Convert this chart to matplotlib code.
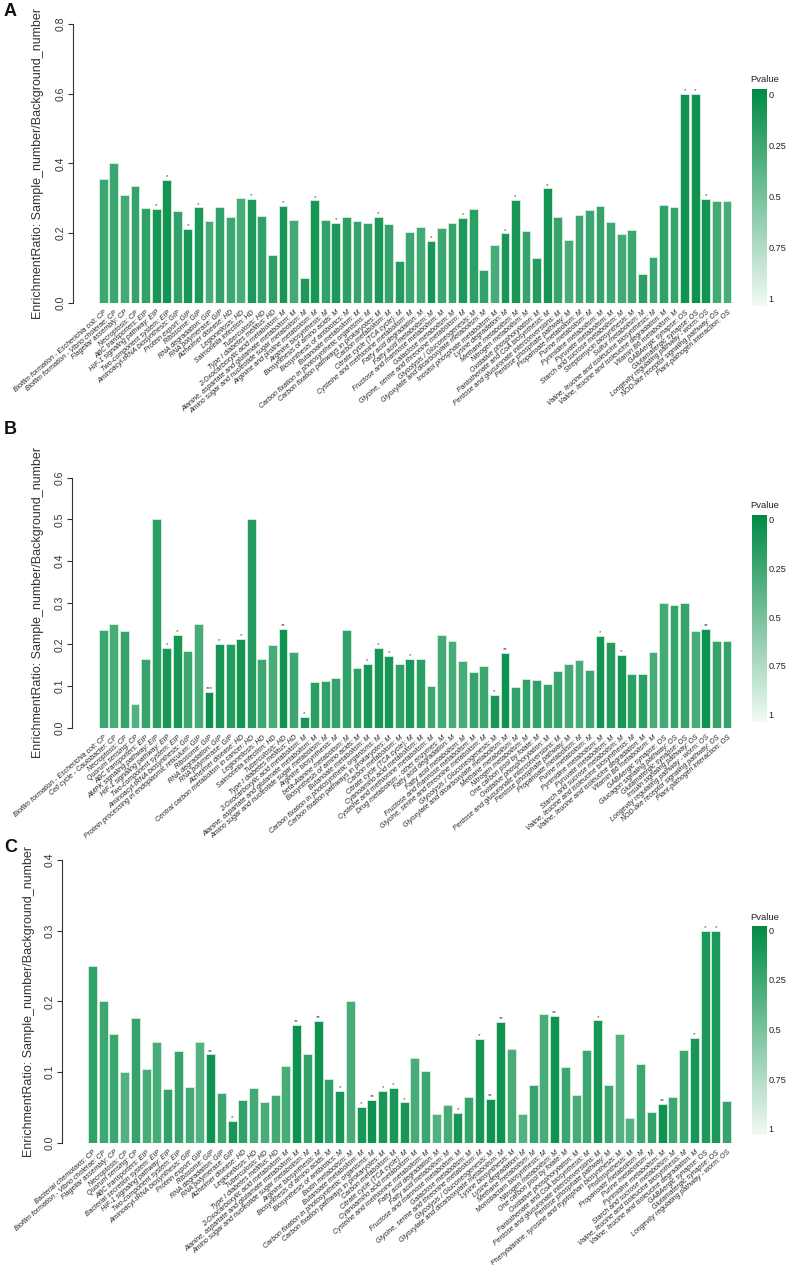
import numpy as np
import matplotlib
matplotlib.use("Agg")
import matplotlib.pyplot as plt
from matplotlib.colors import LinearSegmentedColormap

# ---------------- data ----------------
labels_A = [
    "Biofilm formation - Escherichia coli: CP", "Biofilm formation - Vibrio cholerae: CP",
    "Flagellar assembly: CP", "Necroptosis: CP",
    "ABC transporters: EIP", "HIF-1 signaling pathway: EIP", "Two-component system: EIP",
    "Aminoacyl-tRNA biosynthesis: GIP", "Protein export: GIP", "Ribosome: GIP",
    "RNA degradation: GIP", "RNA polymerase: GIP",
    "Alzheimer disease: HD", "Legionellosis: HD", "Salmonella infection: HD",
    "Tuberculosis: HD", "Type I diabetes mellitus: HD",
    "2-Oxocarboxylic acid metabolism: M", "Alanine, aspartate and glutamate metabolism: M",
    "Amino sugar and nucleotide sugar metabolism: M", "Arginine and proline metabolism: M",
    "Arginine biosynthesis: M", "Biosynthesis of amino acids: M", "Biosynthesis of antibiotics: M",
    "Butanoate metabolism: M", "Carbon fixation in photosynthetic organisms: M",
    "Carbon fixation pathways in prokaryotes: M", "Carbon metabolism: M",
    "Citrate cycle (TCA cycle): M", "Cysteine and methionine metabolism: M",
    "Fatty acid degradation: M", "Fatty acid metabolism: M", "Fructose and mannose metabolism: M",
    "Galactose metabolism: M", "Glycine, serine and threonine metabolism: M",
    "Glycolysis / Gluconeogenesis: M", "Glyoxylate and dicarboxylate metabolism: M",
    "Inositol phosphate metabolism: M", "Lysine degradation: M", "Methane metabolism: M",
    "Nitrogen metabolism: M", "Oxidative phosphorylation: M", "Pantothenate and CoA biosynthesis: M",
    "Pentose and glucuronate interconversions: M", "Pentose phosphate pathway: M",
    "Propanoate metabolism: M", "Purine metabolism: M", "Pyrimidine metabolism: M",
    "Pyruvate metabolism: M", "Starch and sucrose metabolism: M", "Streptomycin biosynthesis: M",
    "Sulfur metabolism: M", "Valine, leucine and isoleucine biosynthesis: M",
    "Valine, leucine and isoleucine degradation: M", "Vitamin B6 metabolism: M",
    "GABAergic synapse: OS", "Glutamatergic synapse: OS", "Longevity regulating pathway - worm: OS",
    "NOD-like receptor signaling pathway: OS", "Plant-pathogen interaction: OS",
]
values_A = [0.354, 0.400, 0.309, 0.334, 0.272, 0.269, 0.353, 0.264, 0.212, 0.274,
            0.235, 0.276, 0.246, 0.301, 0.298, 0.250, 0.136, 0.279, 0.238, 0.070,
            0.294, 0.236, 0.230, 0.245, 0.235, 0.228, 0.246, 0.225, 0.119, 0.203,
            0.216, 0.178, 0.214, 0.228, 0.244, 0.270, 0.094, 0.167, 0.199, 0.296,
            0.206, 0.129, 0.328, 0.246, 0.179, 0.251, 0.266, 0.277, 0.231, 0.196,
            0.208, 0.082, 0.130, 0.280, 0.274, 0.600, 0.600, 0.299, 0.292, 0.292]
pvalues_A = [0.25, 0.25, 0.28, 0.22, 0.20, 0.10, 0.08, 0.20, 0.10, 0.12,
             0.30, 0.20, 0.25, 0.30, 0.12, 0.20, 0.18, 0.10, 0.28, 0.12,
             0.10, 0.20, 0.12, 0.18, 0.22, 0.22, 0.12, 0.22, 0.15, 0.25,
             0.28, 0.10, 0.25, 0.22, 0.12, 0.18, 0.20, 0.30, 0.10, 0.10,
             0.22, 0.15, 0.08, 0.22, 0.30, 0.25, 0.25, 0.22, 0.25, 0.28,
             0.25, 0.18, 0.25, 0.20, 0.22, 0.06, 0.06, 0.08, 0.28, 0.30]
stars_A = ["", "", "", "", "", "*", "*", "", "*", "*",
           "", "", "", "", "*", "", "", "*", "", "",
           "*", "", "*", "", "", "", "*", "", "", "",
           "", "*", "", "", "*", "", "", "", "*", "*",
           "", "", "*", "", "", "", "", "", "", "",
           "", "", "", "", "", "*", "*", "*", "", ""]

labels_B = [
    "Biofilm formation - Escherichia coli: CP", "Cell cycle - Caulobacter: CP",
    "Necroptosis: CP", "Quorum sensing: CP",
    "ABC transporters: EIP", "AMPK signaling pathway: EIP", "HIF-1 signaling pathway: EIP",
    "Two-component system: EIP",
    "Aminoacyl-tRNA biosynthesis: GIP", "Protein processing in endoplasmic reticulum: GIP",
    "Ribosome: GIP", "RNA degradation: GIP", "RNA polymerase: GIP",
    "Alzheimer disease: HD", "Central carbon metabolism in cancer: HD", "Legionellosis: HD",
    "Salmonella infection: HD", "Tuberculosis: HD", "Type I diabetes mellitus: HD",
    "2-Oxocarboxylic acid metabolism: M", "Alanine, aspartate and glutamate metabolism: M",
    "Amino sugar and nucleotide sugar metabolism: M", "Arginine biosynthesis: M",
    "beta-Alanine metabolism: M", "Biosynthesis of amino acids: M", "Butanoate metabolism: M",
    "Carbon fixation in photosynthetic organisms: M", "Carbon fixation pathways in prokaryotes: M",
    "Carbon metabolism: M", "Citrate cycle (TCA cycle): M", "Cyanoamino acid metabolism: M",
    "Cysteine and methionine metabolism: M", "Drug metabolism - other enzymes: M",
    "Fatty acid degradation: M", "Fatty acid metabolism: M", "Fructose and mannose metabolism: M",
    "Glycine, serine and threonine metabolism: M", "Glycolysis / Gluconeogenesis: M",
    "Glyoxylate and dicarboxylate metabolism: M", "Methane metabolism: M",
    "Nitrogen metabolism: M", "One carbon pool by folate: M", "Oxidative phosphorylation: M",
    "Pentose and glucuronate interconversions: M", "Pentose phosphate pathway: M",
    "Propanoate metabolism: M", "Purine metabolism: M", "Pyrimidine metabolism: M",
    "Pyruvate metabolism: M", "Starch and sucrose metabolism: M",
    "Valine, leucine and isoleucine biosynthesis: M", "Valine, leucine and isoleucine degradation: M",
    "Vitamin B6 metabolism: M",
    "GABAergic synapse: OS", "Glucagon signaling pathway: OS", "Glutamatergic synapse: OS",
    "Insulin signaling pathway: OS", "Longevity regulating pathway - worm: OS",
    "NOD-like receptor signaling pathway: OS", "Plant-pathogen interaction: OS",
]
values_B = [0.235, 0.250, 0.233, 0.058, 0.165, 0.500, 0.191, 0.222, 0.183, 0.250,
            0.086, 0.202, 0.202, 0.214, 0.500, 0.166, 0.199, 0.238, 0.181, 0.026,
            0.110, 0.112, 0.120, 0.235, 0.144, 0.154, 0.191, 0.173, 0.153, 0.165,
            0.165, 0.101, 0.222, 0.208, 0.161, 0.134, 0.148, 0.079, 0.180, 0.097,
            0.118, 0.115, 0.106, 0.136, 0.153, 0.162, 0.138, 0.220, 0.206, 0.174,
            0.130, 0.130, 0.182, 0.300, 0.295, 0.300, 0.232, 0.238, 0.207, 0.207]
pvalues_B = [0.25, 0.30, 0.22, 0.35, 0.22, 0.18, 0.10, 0.10, 0.25, 0.30,
             0.05, 0.10, 0.15, 0.08, 0.15, 0.25, 0.30, 0.06, 0.25, 0.10,
             0.18, 0.20, 0.22, 0.20, 0.18, 0.10, 0.10, 0.10, 0.20, 0.12,
             0.18, 0.25, 0.28, 0.30, 0.30, 0.22, 0.25, 0.10, 0.06, 0.20,
             0.20, 0.20, 0.22, 0.22, 0.28, 0.30, 0.25, 0.08, 0.15, 0.10,
             0.18, 0.18, 0.30, 0.28, 0.22, 0.22, 0.30, 0.06, 0.22, 0.22]
stars_B = ["", "", "", "", "", "", "*", "*", "", "",
           "***", "*", "", "*", "", "", "", "**", "", "*",
           "", "", "", "", "", "*", "*", "*", "", "*",
           "", "", "", "", "", "", "", "*", "**", "",
           "", "", "", "", "", "", "", "*", "", "*",
           "", "", "", "", "", "", "", "**", "", ""]

labels_C = [
    "Bacterial chemotaxis: CP", "Biofilm formation - Vibrio cholerae: CP", "Flagellar assembly: CP",
    "Necroptosis: CP", "Quorum sensing: CP",
    "ABC transporters: EIP", "Bacterial secretion system: EIP", "HIF-1 signaling pathway: EIP",
    "Two-component system: EIP",
    "Aminoacyl-tRNA biosynthesis: GIP", "Protein export: GIP", "Ribosome: GIP",
    "RNA degradation: GIP", "RNA polymerase: GIP",
    "Alzheimer disease: HD", "Legionellosis: HD", "Tuberculosis: HD", "Type I diabetes mellitus: HD",
    "2-Oxocarboxylic acid metabolism: M", "Alanine, aspartate and glutamate metabolism: M",
    "Amino sugar and nucleotide sugar metabolism: M", "Arginine biosynthesis: M",
    "Biosynthesis of amino acids: M", "Biosynthesis of antibiotics: M", "Biotin metabolism: M",
    "Butanoate metabolism: M", "Carbon fixation in photosynthetic organisms: M",
    "Carbon fixation pathways in prokaryotes: M", "Carbon metabolism: M",
    "Citrate cycle (TCA cycle): M", "Cyanoamino acid metabolism: M",
    "Cysteine and methionine metabolism: M", "Fatty acid degradation: M", "Fatty acid metabolism: M",
    "Fructose and mannose metabolism: M", "Galactose metabolism: M",
    "Glycine, serine and threonine metabolism: M", "Glycolysis / Gluconeogenesis: M",
    "Glyoxylate and dicarboxylate metabolism: M", "Lysine biosynthesis: M", "Lysine degradation: M",
    "Methane metabolism: M", "Monobactam biosynthesis: M", "Nitrogen metabolism: M",
    "One carbon pool by folate: M", "Oxidative phosphorylation: M",
    "Pantothenate and CoA biosynthesis: M", "Pentose and glucuronate interconversions: M",
    "Pentose phosphate pathway: M", "Phenylalanine, tyrosine and tryptophan biosynthesis: M",
    "Photosynthesis: M", "Propanoate metabolism: M", "Purine metabolism: M",
    "Pyrimidine metabolism: M", "Starch and sucrose metabolism: M",
    "Valine, leucine and isoleucine biosynthesis: M", "Valine, leucine and isoleucine degradation: M",
    "GABAergic synapse: OS", "Glutamatergic synapse: OS", "Longevity regulating pathway - worm: OS",
]
values_C = [0.250, 0.200, 0.154, 0.100, 0.176, 0.104, 0.143, 0.076, 0.130, 0.079,
            0.143, 0.125, 0.070, 0.031, 0.061, 0.078, 0.058, 0.068, 0.108, 0.167,
            0.125, 0.172, 0.090, 0.073, 0.200, 0.051, 0.061, 0.073, 0.078, 0.057,
            0.120, 0.101, 0.041, 0.054, 0.042, 0.064, 0.147, 0.062, 0.171, 0.133,
            0.041, 0.081, 0.182, 0.179, 0.107, 0.068, 0.131, 0.173, 0.082, 0.154,
            0.035, 0.111, 0.044, 0.055, 0.065, 0.131, 0.148, 0.300, 0.300, 0.059]
pvalues_C = [0.20, 0.25, 0.25, 0.35, 0.22, 0.30, 0.30, 0.20, 0.22, 0.28,
             0.35, 0.06, 0.25, 0.10, 0.20, 0.28, 0.30, 0.28, 0.30, 0.06,
             0.20, 0.06, 0.20, 0.10, 0.30, 0.10, 0.06, 0.10, 0.10, 0.10,
             0.30, 0.25, 0.35, 0.30, 0.10, 0.22, 0.10, 0.06, 0.06, 0.30,
             0.35, 0.22, 0.30, 0.06, 0.25, 0.30, 0.25, 0.10, 0.25, 0.35,
             0.35, 0.25, 0.20, 0.06, 0.25, 0.25, 0.10, 0.12, 0.12, 0.22]
stars_C = ["", "", "", "", "", "", "", "", "", "",
           "", "**", "", "*", "", "", "", "", "", "**",
           "", "**", "", "*", "", "*", "**", "*", "*", "*",
           "", "", "", "", "*", "", "*", "**", "**", "",
           "", "", "", "**", "", "", "", "*", "", "",
           "", "", "", "**", "", "", "*", "*", "*", ""]

yticks_A = [0.0, 0.2, 0.4, 0.6, 0.8]
yticks_B = [0.0, 0.1, 0.2, 0.3, 0.4, 0.5, 0.6]
yticks_C = [0.0, 0.1, 0.2, 0.3, 0.4]
cbar_ticks = [0, 0.25, 0.5, 0.75, 1]
cbar_ticklabels = ["0", "0.25", "0.5", "0.75", "1"]
ylabel_text = "EnrichmentRatio: Sample_number/Background_number"

# ---------------- drawing ----------------
W, H = 787, 1265
fig = plt.figure(figsize=(W / 100, H / 100), dpi=100)
plt.rcParams["font.family"] = ["Liberation Sans", "DejaVu Sans"]

cmap = LinearSegmentedColormap.from_list("pv", ["#008B45", "#F2FAF4"])
AXC = "#333333"


def fx(px):
    return px / W


def fy(py):
    return 1 - py / H


def panel(letter, letter_y, labels, values, pvals, stars, yticks,
          axis_x, first_c, step, y0, ytop, title_x, cb_top, cb_bot, lab0, lab1, pv_y):
    n = len(values)
    right_px = 745
    x_left = -(first_c - axis_x) / step
    x_right = (n - 1) + (right_px - (first_c + (n - 1) * step)) / step
    ax = fig.add_axes([fx(axis_x), fy(y0), fx(right_px - axis_x), (y0 - ytop) / H])
    ax.set_xlim(x_left, x_right)
    ax.set_ylim(0, yticks[-1])
    xs = np.arange(n)
    cols = [cmap(p) for p in pvals]
    ax.bar(xs, values, width=0.83, color=cols, edgecolor="#d8efdf", linewidth=0.6)
    for s in ["top", "right", "bottom"]:
        ax.spines[s].set_visible(False)
    ax.spines["left"].set_color(AXC)
    ax.spines["left"].set_linewidth(0.8)
    ax.set_xticks([])
    ax.set_yticks(yticks)
    ax.set_yticklabels([f"{t:.1f}" for t in yticks], rotation=90, va="center",
                       fontsize=7.5, color=AXC)
    ax.tick_params(axis="y", length=3.5, width=0.8, color=AXC, pad=1.5)
    for i, (lab, v, st) in enumerate(zip(labels, values, stars)):
        ax.annotate(lab, xy=(i, 0), xytext=(2, -6.5), textcoords="offset points",
                    rotation=41, rotation_mode="anchor", ha="right", va="center",
                    fontsize=5.0, style="italic", color="#222222", annotation_clip=False)
        if st:
            ax.annotate(st, xy=(i, v), xytext=(0, 0.5), textcoords="offset points",
                        ha="center", va="bottom", fontsize=4.5, color="#444444",
                        annotation_clip=False)
    fig.text(fx(title_x), fy((y0 + ytop) / 2), ylabel_text, rotation=90,
             ha="center", va="center", fontsize=9, color=AXC)
    fig.text(fx(4), fy(letter_y), letter, fontsize=13, fontweight="bold",
             ha="left", va="center", color="#111111")
    # colour bar
    cax = fig.add_axes([fx(752), fy(cb_bot), fx(15), (cb_bot - cb_top) / H])
    grad = np.linspace(0, 1, 256).reshape(-1, 1)
    cax.imshow(grad, aspect="auto", cmap=cmap, origin="upper", extent=[0, 1, 1, 0])
    cax.set_axis_off()
    for t, tl in zip(cbar_ticks, cbar_ticklabels):
        fig.text(fx(768.5), fy(lab0 + t * (lab1 - lab0)), tl, fontsize=6.6,
                 ha="left", va="center", color="#222222")
    fig.text(fx(750), fy(pv_y), "Pvalue", fontsize=6.8, ha="left", va="center",
             color="#222222")
    return ax


panel("A", 12, labels_A, values_A, pvalues_A, stars_A, yticks_A,
      axis_x=73, first_c=103.3, step=10.57, y0=302.7, ytop=24.0, title_x=38,
      cb_top=89, cb_bot=306, lab0=95, lab1=300, pv_y=79)
panel("B", 430, labels_B, values_B, pvalues_B, stars_B, yticks_B,
      axis_x=72, first_c=103.3, step=10.57, y0=727.7, ytop=477.7, title_x=38,
      cb_top=515, cb_bot=722, lab0=520, lab1=716, pv_y=505)
panel("C", 848, labels_C, values_C, pvalues_C, stars_C, yticks_C,
      axis_x=62, first_c=92.4, step=10.75, y0=1142.7, ytop=860.0, title_x=29,
      cb_top=926, cb_bot=1135, lab0=931, lab1=1130, pv_y=917)

fig.savefig("out.png", dpi=100)
